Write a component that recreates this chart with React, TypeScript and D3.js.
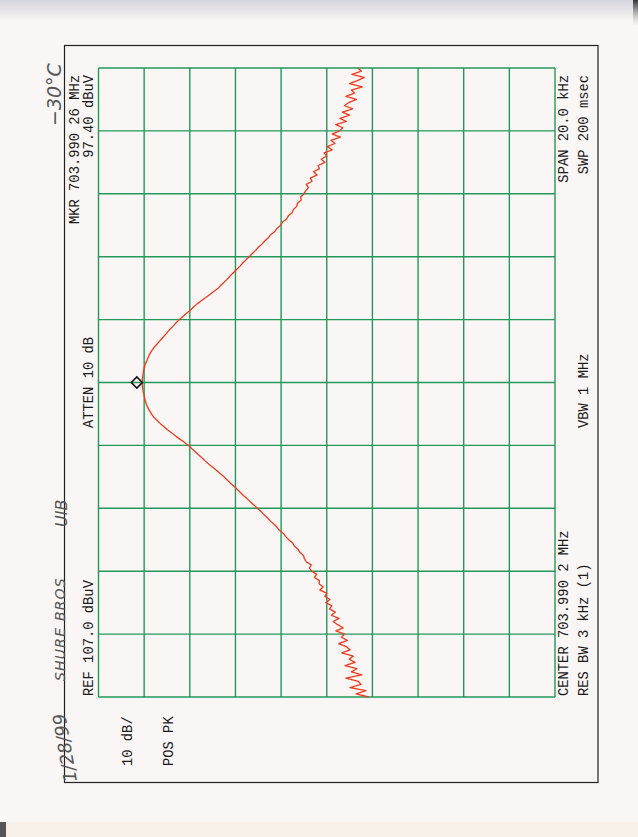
import React from "react";
import * as d3 from "d3";

// ---- Data ----
const refLevelDbuv = 107.0;
const dbPerDiv = 10;
const centerMHz = "703.990 2";
const spanKHz = 20;
const markerDbuv = 97.4;
const markerOffsetKHz = 0;

// trace amplitude (dBuV) at 0.1 kHz steps from -10 kHz to +10 kHz
const traceLower = [
  47.8, 50.6, 48.4, 51.9, 49.5, 50.1, 52.8, 49.3, 51.6, 50.4,
  53.0, 50.8, 52.1, 51.2, 53.7, 51.9, 52.7, 54.4, 52.5, 53.8,
  53.1, 55.0, 53.4, 54.6, 55.6, 54.3, 56.0, 55.1, 56.4, 55.9,
  57.2, 56.3, 57.4, 57.0, 58.5, 57.8, 58.7, 58.6, 59.7, 59.2,
  60.3, 60.8, 60.4, 61.5, 61.9, 62.1, 62.9, 63.3, 64.1, 64.5,
  65.3, 66.0, 66.5, 67.4, 67.9, 68.6, 69.4, 70.0, 70.8, 71.4,
  72.2, 72.9, 73.7, 74.4, 75.2, 75.9, 76.6, 77.3, 78.1, 78.8,
  79.5, 80.3, 81.1, 81.9, 82.8, 83.6, 84.3, 85.1, 85.8, 86.6,
  87.3, 88.2, 89.2, 90.1, 91.0, 91.9, 92.7, 93.5, 94.2, 94.9,
  95.4, 95.8, 96.2, 96.5, 96.7, 96.9, 97.0, 97.2, 97.3, 97.4,
  97.4,
];
const traceUpper = [
  97.4, 97.3, 97.2, 97.1, 96.9, 96.7, 96.4, 96.1, 95.8, 95.4,
  94.9, 94.3, 93.7, 93.1, 92.5, 91.9, 91.3, 90.6, 90.0, 89.3,
  88.5, 87.7, 86.9, 86.2, 85.4, 84.5, 83.5, 82.6, 81.7, 80.8,
  80.1, 79.4, 78.7, 78.1, 77.4, 76.7, 76.0, 75.4, 74.7, 74.0,
  73.3, 72.6, 72.0, 71.2, 70.6, 69.8, 69.3, 68.4, 67.9, 67.1,
  66.7, 65.8, 65.4, 64.6, 64.3, 63.6, 63.4, 62.6, 62.7, 62.0,
  61.6, 61.0, 61.5, 60.2, 60.6, 59.1, 59.9, 58.6, 58.9, 57.4,
  58.2, 57.0, 57.6, 55.8, 56.9, 55.2, 56.1, 54.0, 55.8, 54.2,
  53.5, 55.0, 52.7, 54.1, 52.0, 53.6, 51.3, 53.1, 52.2, 50.5,
  52.8, 50.9, 51.6, 49.2, 52.0, 50.3, 48.8, 51.5, 49.4, 50.2,
];
const traceDbuv = [...traceLower, ...traceUpper];

const leftLabels = [
  { text: "MKR 703.990 26 MHz", col: 0, anchor: "end", at: "top" },
  { text: "97.40 dBuV", col: 1, anchor: "end", at: "top" },
  { text: "ATTEN 10 dB", col: 1, anchor: "start", at: "mid" },
  { text: `REF  ${refLevelDbuv.toFixed(1)} dBuV`, col: 1, anchor: "start", at: "bottom" },
];
const belowLabels = ["10 dB/", "POS PK"];
const rightLabels = [
  { text: `SPAN ${spanKHz.toFixed(1)} kHz`, col: 0, anchor: "end", at: "top" },
  { text: "SWP 200 msec", col: 1, anchor: "end", at: "top" },
  { text: "VBW 1 MHz", col: 1, anchor: "start", at: "mid" },
  { text: `CENTER ${centerMHz} MHz`, col: 0, anchor: "start", at: "bottom" },
  { text: "RES BW 3 kHz (1)", col: 1, anchor: "start", at: "bottom" },
];
const handNotes = ["−30°C", "SHURE  BROS", "UIB", "1/28/99"];

export default function App() {
  const W = 638;
  const H = 837;
  const gL = 98.5, gR = 555, gT = 68, gB = 697;

  const amp = d3.scaleLinear().domain([refLevelDbuv, refLevelDbuv - 10 * dbPerDiv]).range([gL, gR]);
  const freq = d3.scaleLinear().domain([-spanKHz / 2, spanKHz / 2]).range([gB, gT]);
  const idxToFreq = d3.scaleLinear().domain([0, traceDbuv.length - 1]).range([-spanKHz / 2, spanKHz / 2]);

  const line = d3
    .line<number>()
    .x((d) => amp(d))
    .y((_, i) => freq(idxToFreq(i)));

  const ampTicks = d3.range(0, 11).map((k) => refLevelDbuv - k * dbPerDiv);
  const freqTicks = d3.range(0, 11).map((k) => -spanKHz / 2 + (k * spanKHz) / 10);

  const font = "'Liberation Mono', 'DejaVu Sans Mono', monospace";
  const fs = 13.8;
  const txtColor = "#1a1a1a";
  const leftCols = [79, 93];
  const rightCols = [568, 588];
  const posY = (at: string) => (at === "top" ? 75 : at === "bottom" ? 696 : 428);

  const mx = amp(markerDbuv) - 5.5;
  const my = freq(markerOffsetKHz);
  const ds = 5.5;

  const hand = "'DejaVu Sans', sans-serif";
  const handColor = "#555";

  return (
    <svg width={W} height={H} style={{ position: "absolute", left: 0, top: 0 }}>
      <defs>
        <linearGradient id="topShade" x1="0" y1="0" x2="0" y2="1">
          <stop offset="0" stopColor="#d6d6de" />
          <stop offset="1" stopColor="#fbf6f6" />
        </linearGradient>
        <linearGradient id="rightShade" x1="0" y1="0" x2="0" y2="1">
          <stop offset="0" stopColor="#333" />
          <stop offset="1" stopColor="#bbb" stopOpacity="0" />
        </linearGradient>
      </defs>
      <rect x={0} y={0} width={W} height={H} fill="#fbf6f6" />
      <rect x={0} y={0} width={W} height={22} fill="url(#topShade)" />
      <rect x={633} y={0} width={5} height={26} fill="url(#rightShade)" />
      <rect x={0} y={822} width={W} height={15} fill="#f7f1e8" />
      <rect x={0} y={822} width={6} height={15} fill="#555" />

      {/* outer frame */}
      <rect x={64.5} y={45.5} width={533.5} height={737} fill="none" stroke="#222" strokeWidth={1.2} />

      {/* grid */}
      <g stroke="#22995a" strokeWidth={1.4}>
        {ampTicks.map((v) => (
          <line key={"a" + v} x1={amp(v)} x2={amp(v)} y1={gT} y2={gB} />
        ))}
        {freqTicks.map((f) => (
          <line key={"f" + f} x1={gL} x2={gR} y1={freq(f)} y2={freq(f)} />
        ))}
      </g>

      {/* trace */}
      <path d={line(traceDbuv) || ""} fill="none" stroke="#f03a1c" strokeWidth={1.3} strokeLinejoin="round" />

      {/* marker */}
      <path
        d={`M${mx - ds},${my} L${mx},${my - ds} L${mx + ds},${my} L${mx},${my + ds} Z`}
        fill="none"
        stroke="#111"
        strokeWidth={1.6}
      />

      {/* annotations */}
      <g fontFamily={font} fontSize={fs} fill={txtColor}>
        {leftLabels.map((l) => (
          <text
            key={l.text}
            transform={`translate(${leftCols[l.col]},${posY(l.at)}) rotate(-90)`}
            textAnchor={l.anchor as any}
          >
            {l.text}
          </text>
        ))}
        {belowLabels.map((t, i) => (
          <text key={t} transform={`translate(${[132, 173][i]},766) rotate(-90)`}>
            {t}
          </text>
        ))}
        {rightLabels.map((l) => (
          <text
            key={l.text}
            transform={`translate(${rightCols[l.col]},${posY(l.at)}) rotate(-90)`}
            textAnchor={l.anchor as any}
          >
            {l.text}
          </text>
        ))}
      </g>

      {/* handwriting */}
      <g fontFamily={hand} fill={handColor} fontStyle="italic">
        <text transform="translate(61,126) rotate(-90)" fontSize={19} fontWeight={200}>
          {handNotes[0]}
        </text>
        <text transform="translate(65,681) rotate(-90)" fontSize={14} letterSpacing={1.2} fontWeight={200}>
          {handNotes[1]}
        </text>
        <text transform="translate(67,527) rotate(-90)" fontSize={16} fontWeight={200}>
          {handNotes[2]}
        </text>
        <text transform="translate(77,781) rotate(-100)" fontSize={18} fontWeight={200}>
          {handNotes[3]}
        </text>
      </g>
    </svg>
  );
}
